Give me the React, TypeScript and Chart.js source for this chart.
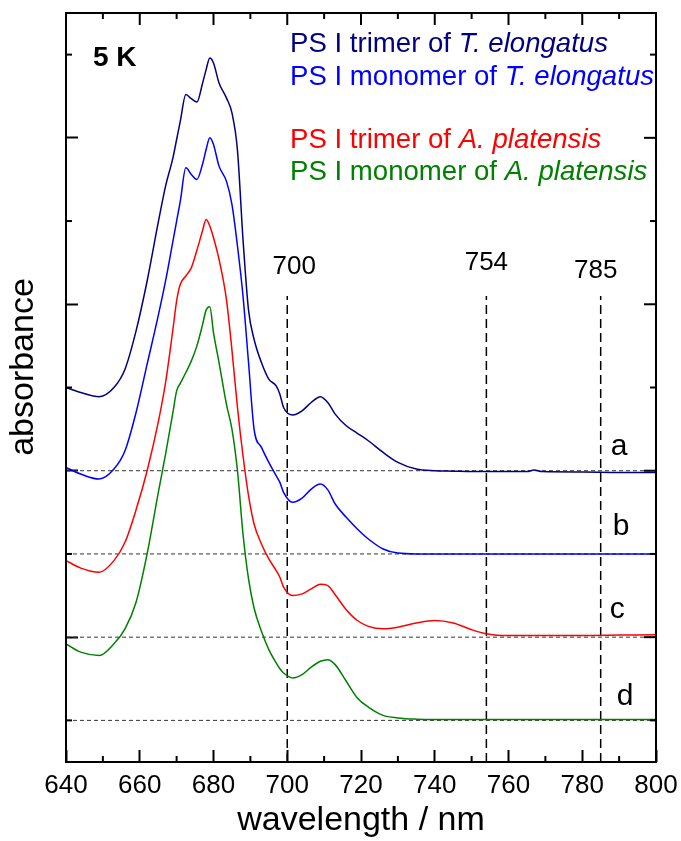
import { useEffect, useRef } from 'react';
import { Chart, registerables } from 'chart.js';

Chart.register(...registerables);

const FONT = "'Liberation Sans', Arial, sans-serif";

const WAVELENGTHS = [640, 644, 649, 653, 656, 659, 662, 665, 667, 669, 670, 671, 672.5, 674, 675.5, 677, 678, 679, 680, 681.5, 683.5, 685, 686.5, 688, 689.5, 691, 693, 695, 697, 698, 699, 701.5, 704, 706.5, 709, 711, 713, 716, 719, 722, 726, 730, 735, 740, 745, 750, 754, 758, 765, 767, 769, 780, 790, 800];

const TRIMER_TE = [4.0, 3.94, 3.89, 4.0, 4.22, 4.68, 5.28, 5.98, 6.42, 6.76, 6.98, 7.2, 7.52, 7.47, 7.43, 7.65, 7.82, 7.96, 7.9, 7.66, 7.48, 7.3, 6.85, 5.78, 4.93, 4.58, 4.3, 4.1, 4.02, 3.92, 3.76, 3.67, 3.72, 3.82, 3.89, 3.82, 3.68, 3.54, 3.45, 3.36, 3.22, 3.1, 3.02, 3.0, 2.995, 2.99, 2.99, 2.99, 2.99, 3.01, 2.99, 2.985, 2.98, 2.98];

const MONOMER_TE = [3.04, 2.96, 2.9, 3.02, 3.24, 3.7, 4.28, 4.86, 5.28, 5.76, 6.0, 6.24, 6.64, 6.56, 6.5, 6.68, 6.86, 7.0, 6.92, 6.66, 6.48, 6.2, 5.7, 5.1, 4.3, 3.5, 3.28, 3.1, 2.94, 2.86, 2.74, 2.62, 2.67, 2.78, 2.84, 2.77, 2.6, 2.44, 2.3, 2.18, 2.06, 2.01, 2.0, 2.0, 2.0, 2.0, 2.0, 2.0, 2.0, 2.0, 2.0, 2.0, 2.0, 2.0];

const TRIMER_AP = [1.92, 1.83, 1.78, 1.92, 2.14, 2.53, 3.0, 3.58, 4.06, 4.7, 5.04, 5.24, 5.34, 5.44, 5.65, 5.88, 6.02, 5.94, 5.8, 5.54, 5.06, 4.45, 3.76, 3.18, 2.7, 2.36, 2.12, 1.94, 1.8, 1.72, 1.6, 1.5, 1.52, 1.58, 1.635, 1.62, 1.51, 1.33, 1.2, 1.13, 1.1, 1.12, 1.17, 1.2, 1.17, 1.09, 1.04, 1.02, 1.02, 1.02, 1.02, 1.02, 1.025, 1.03];

const MONOMER_AP = [0.92, 0.82, 0.78, 0.92, 1.1, 1.42, 2.0, 2.73, 3.2, 3.7, 3.96, 4.05, 4.18, 4.32, 4.5, 4.75, 4.93, 4.97, 4.66, 4.3, 3.8, 3.5, 3.0, 2.24, 1.7, 1.35, 1.07, 0.85, 0.69, 0.62, 0.57, 0.51, 0.55, 0.64, 0.71, 0.73, 0.67, 0.47, 0.27, 0.16, 0.06, 0.03, 0.015, 0.01, 0.01, 0.01, 0.01, 0.01, 0.01, 0.01, 0.01, 0.01, 0.01, 0.01];

const SERIES_COLORS = ['#000080', '#0000ff', '#ff0000', '#008000'];
const BASELINES = [3, 2, 1, 0];
const CURVE_LABELS = ['a', 'b', 'c', 'd'];
const MARKERS = [700, 754, 785];
const MARKER_TOP = 5.1;

const X_MIN = 640;
const X_MAX = 800;
const Y_MIN = -0.5;
const Y_MAX = 8.5;
const X_MAJOR = [640, 660, 680, 700, 720, 740, 760, 780, 800];
const X_MINOR = [650, 670, 690, 710, 730, 750, 770, 790];
const Y_MAJOR = [1, 3, 5, 7];
const Y_MINOR = [0, 2, 4, 6, 8];

const LEGEND_LINES = [
  { plain: 'PS I trimer of ', italic: 'T. elongatus' },
  { plain: 'PS I monomer of ', italic: 'T. elongatus' },
  { plain: 'PS I trimer of ', italic: 'A. platensis' },
  { plain: 'PS I monomer of ', italic: 'A. platensis' },
];
const LEGEND_BASELINES = [52, 85, 148, 180];
const LEGEND_X = 290;

const MARKER_LABEL_DX = [7, 0, -5];
const MARKER_LABEL_DY = [-22, -26, -18];
const CURVE_LABEL_X = 790;
const CURVE_LABEL_DX = [0, 2, -2, 6];
const CURVE_LABEL_DY = [-16, -19, -19, -15];

const decorPlugin = {
  id: 'decor',
  afterDraw(chart: any) {
    const { ctx, chartArea: ca, scales } = chart;
    const x = scales.x;
    const y = scales.y;
    ctx.save();
    ctx.strokeStyle = '#000';
    ctx.lineWidth = 2;
    const seg = (x1: number, y1: number, x2: number, y2: number) => {
      ctx.beginPath();
      ctx.moveTo(x1, y1);
      ctx.lineTo(x2, y2);
      ctx.stroke();
    };
    X_MAJOR.forEach((v) => {
      const p = x.getPixelForValue(v);
      seg(p, ca.top, p, ca.top + 12);
    });
    X_MINOR.forEach((v) => {
      const p = x.getPixelForValue(v);
      seg(p, ca.bottom, p, ca.bottom - 6);
      seg(p, ca.top, p, ca.top + 6);
    });
    Y_MAJOR.forEach((v) => {
      const p = y.getPixelForValue(v);
      seg(ca.right, p, ca.right - 12, p);
    });
    Y_MINOR.forEach((v) => {
      const p = y.getPixelForValue(v);
      seg(ca.left, p, ca.left + 6, p);
      seg(ca.right, p, ca.right - 6, p);
    });
    ctx.strokeRect(ca.left, ca.top, ca.right - ca.left, ca.bottom - ca.top);

    ctx.fillStyle = '#000';
    ctx.textAlign = 'center';
    ctx.textBaseline = 'alphabetic';
    ctx.font = `26px ${FONT}`;
    const topPx = y.getPixelForValue(MARKER_TOP);
    MARKERS.forEach((m, i) => {
      ctx.fillText(String(m), x.getPixelForValue(m) + MARKER_LABEL_DX[i], topPx + MARKER_LABEL_DY[i]);
    });

    ctx.font = `30px ${FONT}`;
    CURVE_LABELS.forEach((l, i) => {
      ctx.fillText(l, x.getPixelForValue(CURVE_LABEL_X) + CURVE_LABEL_DX[i], y.getPixelForValue(BASELINES[i]) + CURVE_LABEL_DY[i]);
    });

    ctx.textAlign = 'left';
    ctx.font = `bold 28px ${FONT}`;
    ctx.fillText('5 K', 93, 66);

    LEGEND_LINES.forEach((line, i) => {
      ctx.fillStyle = SERIES_COLORS[i];
      ctx.font = `27.6px ${FONT}`;
      ctx.fillText(line.plain, LEGEND_X, LEGEND_BASELINES[i]);
      const w = ctx.measureText(line.plain).width;
      ctx.font = `italic 27.6px ${FONT}`;
      ctx.fillText(line.italic, LEGEND_X + w, LEGEND_BASELINES[i]);
    });

    ctx.fillStyle = '#000';
    ctx.font = `34px ${FONT}`;
    ctx.translate(24, 367);
    ctx.rotate(-Math.PI / 2);
    ctx.textAlign = 'center';
    ctx.textBaseline = 'middle';
    ctx.fillText('absorbance', 0, 0);
    ctx.restore();
  },
};

export default function App() {
  const canvasRef = useRef<HTMLCanvasElement | null>(null);

  useEffect(() => {
    if (!canvasRef.current) return;
    const seriesList = [TRIMER_TE, MONOMER_TE, TRIMER_AP, MONOMER_AP];
    const curveSets = seriesList.map((s, i) => ({
      data: WAVELENGTHS.map((w, j) => ({ x: w, y: s[j] })),
      borderColor: SERIES_COLORS[i],
      borderWidth: 1.5,
      pointRadius: 0,
      cubicInterpolationMode: 'monotone' as const,
      fill: false,
    }));
    const baselineSets = BASELINES.map((b) => ({
      data: [{ x: X_MIN, y: b }, { x: X_MAX, y: b }],
      borderColor: '#333333',
      borderWidth: 1,
      borderDash: [4, 3],
      pointRadius: 0,
      fill: false,
    }));
    const markerSets = MARKERS.map((m) => ({
      data: [{ x: m, y: Y_MIN }, { x: m, y: MARKER_TOP }],
      borderColor: '#000000',
      borderWidth: 1.5,
      borderDash: [9, 5],
      pointRadius: 0,
      fill: false,
    }));

    const chart = new Chart(canvasRef.current, {
      type: 'line',
      data: { datasets: [...curveSets, ...baselineSets, ...markerSets] as any },
      options: {
        animation: false,
        responsive: false,
        devicePixelRatio: 1,
        layout: { padding: { left: 0, right: 25, top: 13, bottom: 0 } },
        plugins: { legend: { display: false }, tooltip: { enabled: false } },
        scales: {
          x: {
            type: 'linear',
            position: 'bottom',
            min: X_MIN,
            max: X_MAX,
            afterFit: (s: any) => { s.height = 79; s.paddingLeft = 0; s.paddingRight = 0; },
            afterBuildTicks: (s: any) => { s.ticks = X_MAJOR.map((v) => ({ value: v })); },
            grid: { display: true, drawOnChartArea: false, drawTicks: true, tickLength: -12, tickWidth: 2, tickColor: '#000' },
            border: { display: false },
            ticks: { color: '#000', font: { family: FONT, size: 26 }, padding: 20, maxRotation: 0, autoSkip: false },
            title: { display: true, text: 'wavelength / nm', color: '#000', font: { family: FONT, size: 34 }, padding: { top: 0, bottom: 0 } },
          },
          y: {
            type: 'linear',
            position: 'left',
            min: Y_MIN,
            max: Y_MAX,
            afterFit: (s: any) => { s.width = 66; s.paddingTop = 0; s.paddingBottom = 0; },
            afterBuildTicks: (s: any) => { s.ticks = Y_MAJOR.map((v) => ({ value: v })); },
            grid: { display: true, drawOnChartArea: false, drawTicks: true, tickLength: -12, tickWidth: 2, tickColor: '#000' },
            border: { display: false },
            ticks: { display: false },
          },
        },
      },
      plugins: [decorPlugin],
    });
    return () => chart.destroy();
  }, []);

  return (
    <div style={{ position: 'absolute', left: 0, top: 0, width: 681, height: 841, background: '#fff' }}>
      <canvas ref={canvasRef} width={681} height={841} style={{ display: 'block' }} />
    </div>
  );
}
